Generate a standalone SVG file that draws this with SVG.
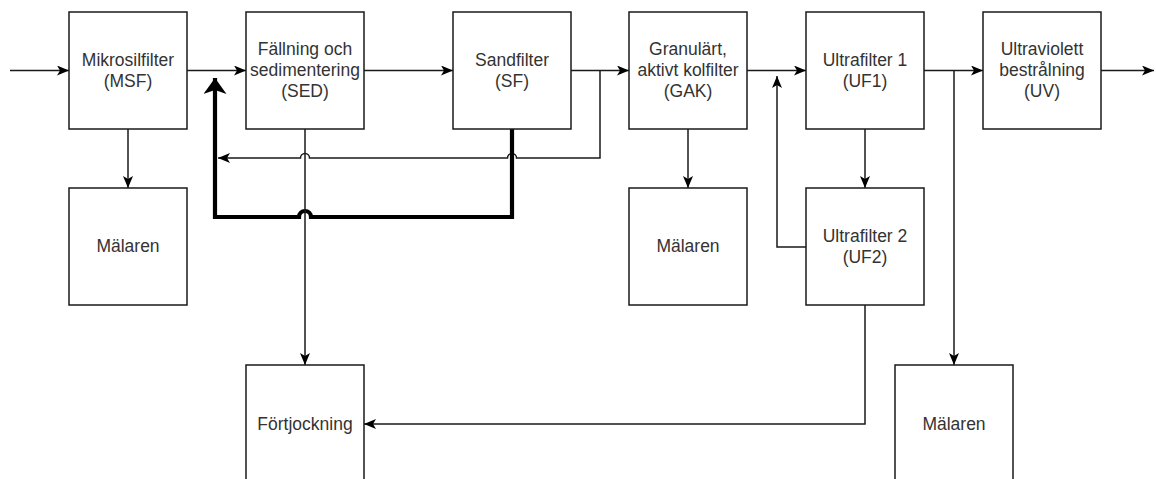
<svg xmlns="http://www.w3.org/2000/svg" width="1156" height="479" viewBox="0 0 1156 479">
<style>
.box{fill:#ffffff;stroke:#1a1a1a;stroke-width:1.5}
.lbl{font-family:"Liberation Sans",Arial,sans-serif;font-size:17.5px;fill:#333333;text-anchor:middle}
.ln{fill:none;stroke:#1a1a1a;stroke-width:1.5}
.thick{fill:none;stroke:#000000;stroke-width:4.2}
</style>
<defs>
<marker id="arr" markerUnits="userSpaceOnUse" markerWidth="13" markerHeight="11" refX="12" refY="5" orient="auto">
<path d="M0,0 L12,5 L0,10 L3,5 Z" fill="#000000"/>
</marker>
<marker id="arrBig" markerUnits="userSpaceOnUse" markerWidth="18" markerHeight="24" refX="16" refY="11.5" orient="auto">
<path d="M0,0 L16,11.5 L0,23 L4,11.5 Z" fill="#000000"/>
</marker>
</defs>
<rect width="1156" height="479" fill="#ffffff"/>
<g id="connectors">
<path class="ln" d="M10,70.5 H69" marker-end="url(#arr)"/>
<path class="ln" d="M187,70.5 H246" marker-end="url(#arr)"/>
<path class="ln" d="M364,70.5 H453" marker-end="url(#arr)"/>
<path class="ln" d="M571,70.5 H629" marker-end="url(#arr)"/>
<path class="ln" d="M600,70.5 V158 H516.5 A4.5,4.5 0 0 0 507.5,158 H309.5 A4.5,4.5 0 0 0 300.5,158 H218" marker-end="url(#arr)"/>
<path class="thick" d="M512,129 V217 H311 A6,6 0 0 0 299,217 H215 V78" marker-end="url(#arrBig)"/>
<path class="ln" d="M305,129 V365" marker-end="url(#arr)"/>
<path class="ln" d="M128,129 V188" marker-end="url(#arr)"/>
<path class="ln" d="M688,129 V188" marker-end="url(#arr)"/>
<path class="ln" d="M747,70.5 H806" marker-end="url(#arr)"/>
<path class="ln" d="M865,129 V188" marker-end="url(#arr)"/>
<path class="ln" d="M806,247 H777 V76" marker-end="url(#arr)"/>
<path class="ln" d="M865,305 V424 H364" marker-end="url(#arr)"/>
<path class="ln" d="M924,70.5 H983" marker-end="url(#arr)"/>
<path class="ln" d="M954,70.5 V365" marker-end="url(#arr)"/>
<path class="ln" d="M1101,70.5 H1154" marker-end="url(#arr)"/>
</g>
<g id="msf"><rect class="box" x="69" y="12" width="118" height="117"/><text class="lbl" x="128" y="66">Mikrosilfilter</text><text class="lbl" x="128" y="87">(MSF)</text></g>
<g id="sed"><rect class="box" x="246" y="12" width="118" height="117"/><text class="lbl" x="305" y="55">Fällning och</text><text class="lbl" x="305" y="76">sedimentering</text><text class="lbl" x="305" y="97">(SED)</text></g>
<g id="sf"><rect class="box" x="453" y="12" width="118" height="117"/><text class="lbl" x="512" y="66">Sandfilter</text><text class="lbl" x="512" y="87">(SF)</text></g>
<g id="gak"><rect class="box" x="629" y="12" width="118" height="117"/><text class="lbl" x="688" y="55">Granulärt,</text><text class="lbl" x="688" y="76">aktivt kolfilter</text><text class="lbl" x="688" y="97">(GAK)</text></g>
<g id="uf1"><rect class="box" x="806" y="12" width="118" height="117"/><text class="lbl" x="865" y="66">Ultrafilter 1</text><text class="lbl" x="865" y="87">(UF1)</text></g>
<g id="uv"><rect class="box" x="983" y="12" width="118" height="117"/><text class="lbl" x="1042" y="55">Ultraviolett</text><text class="lbl" x="1042" y="76">bestrålning</text><text class="lbl" x="1042" y="97">(UV)</text></g>
<g id="malaren1"><rect class="box" x="69" y="188" width="118" height="117"/><text class="lbl" x="128" y="252">Mälaren</text></g>
<g id="malaren2"><rect class="box" x="629" y="188" width="118" height="117"/><text class="lbl" x="688" y="252">Mälaren</text></g>
<g id="uf2"><rect class="box" x="806" y="188" width="118" height="117"/><text class="lbl" x="865" y="242">Ultrafilter 2</text><text class="lbl" x="865" y="263">(UF2)</text></g>
<g id="fortjockning"><rect class="box" x="246" y="365" width="118" height="118"/><text class="lbl" x="305" y="430">Förtjockning</text></g>
<g id="malaren3"><rect class="box" x="895" y="365" width="118" height="118"/><text class="lbl" x="954" y="430">Mälaren</text></g>
</svg>
